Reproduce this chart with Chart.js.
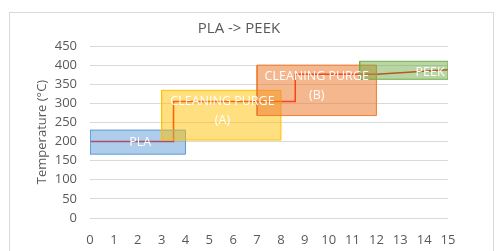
<!DOCTYPE html>
<html lang="en">
<head>
    <meta charset="UTF-8">
    <title>PLA -> PEEK</title>
    <style>
        body {
            margin: 0;
            background: white;
            overflow: hidden;
        }

        #frame {
            position: absolute;
            left: 9px;
            top: 12px;
            width: 483px;
            height: 260px;
            border: 1px solid #d9d9d9;
        }

        #chart-container {
            position: absolute;
            left: 0;
            top: 0;
            width: 502px;
            height: 251px;
        }
    </style>
    <script src="https://cdn.jsdelivr.net/npm/chart.js"></script>
</head>
<body>
    <div id="frame"></div>
    <div id="chart-container">
        <canvas id="purgeChart" width="502" height="251"></canvas>
    </div>
    <script>
        // temperature profile (time on x, °C on y)
        const timeValues = [0, 3.5, 3.5, 8.6, 8.6, 12, 15];
        const tempValues = [200, 200, 305, 305, 376, 376, 388];

        // stage boxes
        const stageNames = [['PLA'], ['CLEANING PURGE', '(A)'], ['CLEANING PURGE', '(B)'], ['PEEK']];
        const stageTimeFrom = [0, 3, 7, 11.3];
        const stageTimeTo = [4, 8, 12, 15];
        const stageTempFrom = [167, 204, 268, 363];
        const stageTempTo = [230, 334, 400, 410];
        const stageLabelTime = [2.1, 5.55, 9.5, 14.25];
        const stageLabelTemp = [197, 281, 345, 380];

        const xTicks = [0, 15, 1];   // min, max, step
        const yTicks = [0, 450, 50];

        const stageColors = ['91, 155, 213', '255, 192, 0', '237, 125, 49', '112, 173, 71'];
        const stageAlpha = [0.5, 0.5, 0.55, 0.5];

        const boxDatasets = stageNames.map((name, i) => ({
            label: name.join(' '),
            data: [
                { x: stageTimeFrom[i], y: stageTempFrom[i] },
                { x: stageTimeTo[i], y: stageTempFrom[i] },
                { x: stageTimeTo[i], y: stageTempTo[i] },
                { x: stageTimeFrom[i], y: stageTempTo[i] },
                { x: stageTimeFrom[i], y: stageTempFrom[i] }
            ],
            borderColor: `rgb(${stageColors[i]})`,
            backgroundColor: `rgba(${stageColors[i]}, ${stageAlpha[i]})`,
            borderWidth: 1,
            pointRadius: 0,
            fill: 'shape',
            order: 5 - i
        }));

        // white labels on top of the boxes
        const stageLabels = {
            id: 'stageLabels',
            afterDatasetsDraw(chart) {
                const ctx = chart.ctx;
                const x = chart.scales.x;
                const y = chart.scales.y;
                ctx.save();
                ctx.fillStyle = 'white';
                ctx.font = '12.5px "Open Sans", sans-serif';
                ctx.textAlign = 'center';
                ctx.textBaseline = 'middle';
                stageNames.forEach((lines, i) => {
                    const px = x.getPixelForValue(stageLabelTime[i]);
                    const py = y.getPixelForValue(stageLabelTemp[i]);
                    const lineHeight = 19;
                    const top = py - (lines.length - 1) * lineHeight / 2;
                    lines.forEach((line, j) => {
                        ctx.fillText(line, px, top + j * lineHeight);
                    });
                });
                ctx.restore();
            }
        };

        const ctx = document.getElementById('purgeChart').getContext('2d');
        new Chart(ctx, {
            type: 'line',
            data: {
                datasets: [
                    {
                        label: 'Temperature',
                        data: timeValues.map((t, i) => ({ x: t, y: tempValues[i] })),
                        borderColor: '#ff0000',
                        borderWidth: 1.5,
                        pointRadius: 0,
                        fill: false,
                        order: 10
                    },
                    ...boxDatasets
                ]
            },
            options: {
                responsive: false,
                animation: false,
                layout: {
                    padding: { top: 12, right: 54, bottom: 0, left: 30 }
                },
                scales: {
                    x: {
                        type: 'linear',
                        min: xTicks[0],
                        max: xTicks[1],
                        afterFit(scale) { scale.height = 33; },
                        grid: { display: false },
                        border: { display: false },
                        ticks: {
                            stepSize: xTicks[2],
                            color: '#595959',
                            font: { family: '"Open Sans", sans-serif', size: 13 },
                            padding: 6,
                            maxRotation: 0
                        }
                    },
                    y: {
                        min: yTicks[0],
                        max: yTicks[1],
                        afterFit(scale) { scale.width = 60; },
                        grid: { color: '#d9d9d9', drawTicks: false },
                        border: { display: false },
                        ticks: {
                            stepSize: yTicks[2],
                            color: '#595959',
                            font: { family: '"Open Sans", sans-serif', size: 13 },
                            padding: 13
                        },
                        title: {
                            display: true,
                            text: 'Temperature (°C)',
                            color: '#595959',
                            font: { family: '"Open Sans", sans-serif', size: 13 },
                            padding: { top: 4, bottom: 4 }
                        }
                    }
                },
                plugins: {
                    legend: { display: false },
                    tooltip: { enabled: false },
                    title: {
                        display: true,
                        text: 'PLA -> PEEK',
                        color: '#595959',
                        font: { family: '"Open Sans", sans-serif', size: 15, weight: 'normal' },
                        padding: { top: 8, bottom: 8 }
                    }
                }
            },
            plugins: [stageLabels]
        });
    </script>
</body>
</html>
